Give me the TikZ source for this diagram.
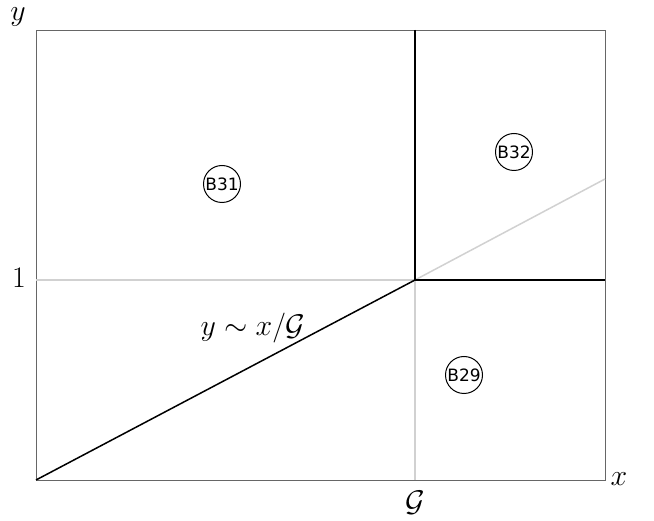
\documentclass[tikz,border=0pt]{standalone}
\usepackage{fontspec}
\newfontfamily\regfont{DejaVu Sans}
\newcommand{\biglab}[1]{\scalebox{1.44}{\fontsize{20}{22}\selectfont #1}}
\begin{document}
\begin{tikzpicture}[x=1pt,y=-1pt,
  frame/.style={draw=black!60,line width=0.8pt},
  bound/.style={draw=black,line width=1.5pt},
  faint/.style={draw=black!18,line width=1.5pt},
  region/.style={circle,draw=black,line width=1pt,minimum size=37pt,inner sep=0pt,font=\regfont\fontsize{17}{17}\selectfont},
  lab/.style={inner sep=0pt}]
\useasboundingbox (0,0) rectangle (654,521);
\coordinate (o) at (36,480);
\coordinate (p) at (415,280);
\coordinate (top) at (415,30);
\coordinate (bot) at (415,480);
\coordinate (lft) at (36,280);
\coordinate (rgt) at (605,280);
\coordinate (diag) at (605,179);
\draw[frame] (36,30) rectangle (605,480);
\draw[faint] (lft) -- (p);
\draw[faint] (p) -- (bot);
\draw[faint] (p) -- (diag);
\draw[bound] (o) -- (p);
\draw[bound] (top) -- (p) -- (rgt);
\node[region] (b31) at (222,184) {B31};
\node[region] (b32) at (514,152) {B32};
\node[region] (b29) at (464,375) {B29};
\node[lab] (ly) at (18,17) {\biglab{$y$}};
\node[lab] (lx) at (619,479) {\biglab{$x$}};
\node[lab] (l1) at (19,278) {\biglab{$1$}};
\node[lab] (lg) at (415,503) {\biglab{$\mathcal{G}$}};
\node[lab] (rel) at (253,328) {\biglab{$y\sim x/\mathcal{G}$}};
\end{tikzpicture}
\end{document}
